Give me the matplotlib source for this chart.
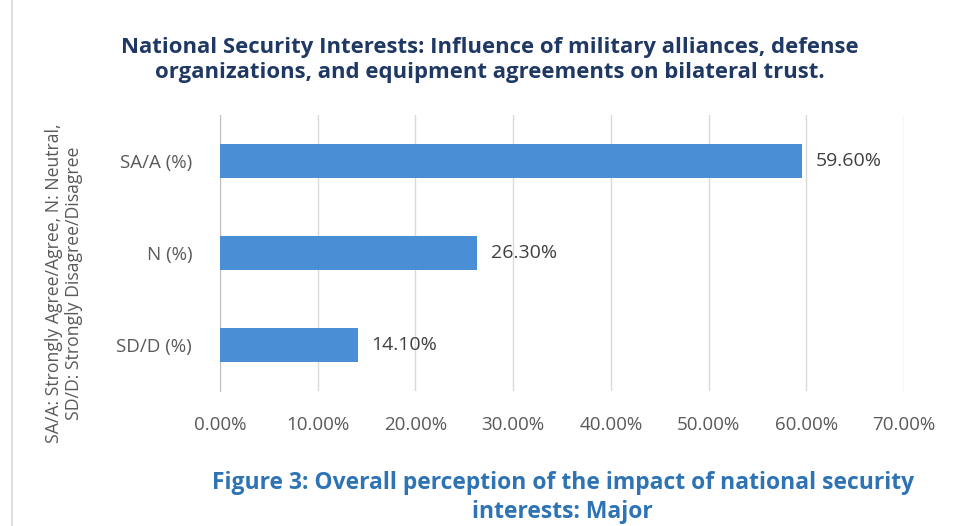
import matplotlib.pyplot as plt
from matplotlib.lines import Line2D

# data
categories = ['SA/A (%)', 'N (%)', 'SD/D (%)']
values = [59.6, 26.3, 14.1]
xticks = [0, 10, 20, 30, 40, 50, 60, 70]

plt.rcParams['font.family'] = ['Open Sans', 'DejaVu Sans']

fig = plt.figure(figsize=(9.57, 5.26), dpi=100)
ax = fig.add_axes([0.2299, 0.2567, 0.7147, 0.5247])

y = list(range(len(categories)))
ax.barh(y, values, height=0.36, color='#4A8FD6', zorder=3)
ax.set_ylim(len(categories) - 0.5, -0.5)
ax.set_xlim(0, 70)
ax.set_xticks(xticks)
ax.set_xticklabels([f'{t:.2f}%' for t in xticks], color='#595959', fontsize=13.5)
ax.set_yticks(y)
ax.set_yticklabels(categories, color='#595959', fontsize=13.5)
ax.tick_params(length=0, pad=20)
ax.tick_params(axis='x', pad=18)
ax.grid(axis='x', color='#D9D9D9', linewidth=1, zorder=0)
for s in ['top', 'right', 'bottom']:
    ax.spines[s].set_visible(False)
ax.spines['left'].set_color('#BFBFBF')

for i, v in enumerate(values):
    ax.text(v + 1.4, i, f'{v:.2f}%', va='center', ha='left',
            color='#404040', fontsize=14)

fig.text(0.512, 0.886, 'National Security Interests: Influence of military alliances, defense\n'
         'organizations, and equipment agreements on bilateral trust.',
         ha='center', va='center', fontsize=15.9, fontweight='bold',
         color='#1F3864', linespacing=1.3)

fig.text(0.067, 0.462, 'SA/A: Strongly Agree/Agree, N: Neutral,\nSD/D: Strongly Disagree/Disagree',
         rotation=90, ha='center', va='center', fontsize=12.7, color='#595959',
         linespacing=1.1)

fig.text(0.588, 0.054, 'Figure 3: Overall perception of the impact of national security\n'
         'interests: Major', ha='center', va='center', fontsize=16.5,
         fontweight='bold', color='#2E74B5', linespacing=1.25)

fig.add_artist(Line2D([0.0125, 0.0125], [0.0, 1.0], color='#D9D9D9',
                      linewidth=1.2, transform=fig.transFigure))

fig.savefig('out.png', dpi=100)
